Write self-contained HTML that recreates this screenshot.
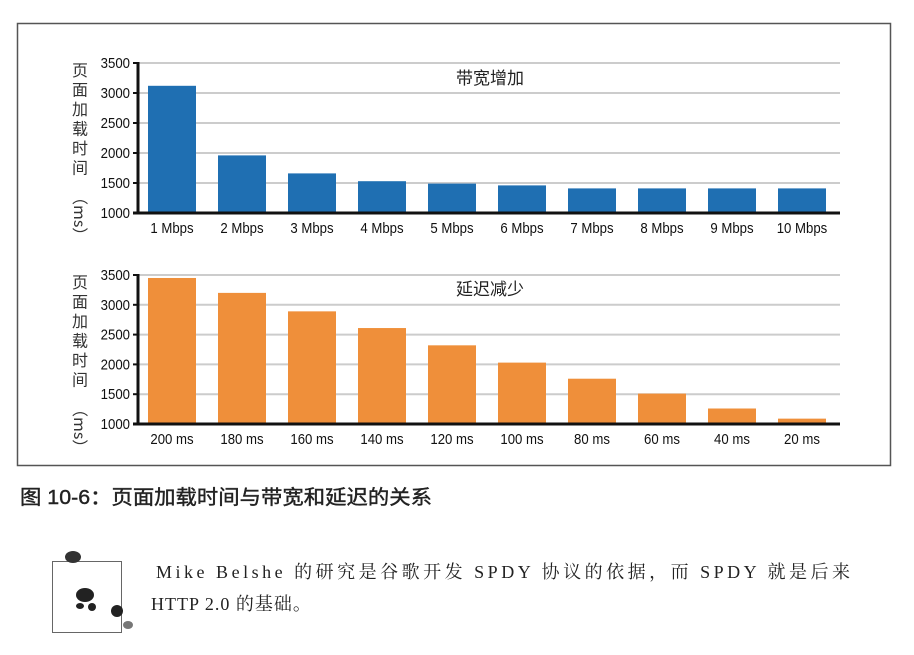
<!DOCTYPE html>
<html><head><meta charset="utf-8"><style>
body{margin:0;width:914px;height:655px;background:#fff;overflow:hidden;position:relative;font-family:"Liberation Sans","Noto Sans CJK SC",sans-serif}
svg{position:absolute;left:0;top:0}
</style></head><body>
<svg id="chart" width="914" height="655" xmlns="http://www.w3.org/2000/svg">
<rect x="17.5" y="23.5" width="873" height="442" fill="none" stroke="#555" stroke-width="1.5"/>
<text x="20" y="504" font-size="20" fill="#222" stroke="#222" stroke-width="0.4" textLength="412" lengthAdjust="spacingAndGlyphs" font-family="Liberation Sans, Noto Sans CJK SC, sans-serif">图 10-6：页面加载时间与带宽和延迟的关系</text>
<g>
<rect x="52.5" y="561.5" width="69" height="71" fill="none" stroke="#666" stroke-width="1"/>
<ellipse cx="73" cy="557" rx="8" ry="6" fill="#333"/>
<ellipse cx="85" cy="595" rx="9" ry="7" fill="#222"/>
<ellipse cx="80" cy="606" rx="4" ry="3" fill="#222"/>
<ellipse cx="92" cy="607" rx="4" ry="4" fill="#222"/>
<ellipse cx="117" cy="611" rx="6" ry="6" fill="#222"/>
<ellipse cx="128" cy="625" rx="5" ry="4" fill="#777"/>
</g>
<text x="156" y="578" font-size="18" fill="#222" textLength="694" lengthAdjust="spacing" font-family="Liberation Serif, Noto Serif CJK SC, serif">Mike Belshe 的研究是谷歌开发 SPDY 协议的依据，而 SPDY 就是后来</text>
<text x="151" y="610" font-size="18" fill="#222" font-family="Liberation Serif, Noto Serif CJK SC, serif" letter-spacing="1">HTTP 2.0 的基础。</text>
</svg>
<script>
const bwCategories=["1 Mbps","2 Mbps","3 Mbps","4 Mbps","5 Mbps","6 Mbps","7 Mbps","8 Mbps","9 Mbps","10 Mbps"];
const bwValues=[3120,1960,1660,1530,1490,1460,1410,1410,1410,1410];
const latCategories=["200 ms","180 ms","160 ms","140 ms","120 ms","100 ms","80 ms","60 ms","40 ms","20 ms"];
const latValues=[3450,3200,2890,2610,2320,2030,1760,1510,1260,1090];
const yTicks=[1000,1500,2000,2500,3000,3500];
const NS="http://www.w3.org/2000/svg";
const svg=document.getElementById('chart');
function mk(tag,attrs,parent){const e=document.createElementNS(NS,tag);for(const k in attrs)e.setAttribute(k,attrs[k]);parent.appendChild(e);return e;}
function drawChart(name,cats,vals,yTop,yBot,color,title,titleY){
  const g=mk('g',{},svg);
  
  
  const x0=138,step=70,barW=48,xEnd=840;
  const y=v=>yBot-(v-1000)/2500*(yBot-yTop);
  yTicks.forEach(t=>{
    if(t>1000){const l=mk('line',{x1:x0,x2:xEnd,y1:y(t),y2:y(t),stroke:'#ccc','stroke-width':2},g);
    
    }
    const tk=mk('line',{x1:x0-5,x2:x0,y1:y(t),y2:y(t),stroke:'#111','stroke-width':2},g);
    
    
    const tx=mk('text',{x:0,y:0,'text-anchor':'end','font-size':15,fill:'#111','font-family':'Liberation Sans, sans-serif',transform:`translate(${x0-8},${y(t)+5}) scale(0.88,1)`},g);
    tx.textContent=t;
    
    
  });
  cats.forEach((c,i)=>{
    const bx=x0+10+i*step;
    const r=mk('rect',{x:bx,y:y(vals[i]),width:barW,height:yBot-y(vals[i]),fill:color},g);
    
    
    const tx=mk('text',{x:0,y:0,'text-anchor':'middle','font-size':15,fill:'#111','font-family':'Liberation Sans, sans-serif',transform:`translate(${bx+barW/2},${yBot+20}) scale(0.88,1)`},g);
    tx.textContent=c;
    
    
  });
  const ax=mk('line',{x1:x0,x2:x0,y1:yTop-1,y2:yBot+1,stroke:'#111','stroke-width':3},g);
  
  
  const bx=mk('line',{x1:x0-5,x2:xEnd,y1:yBot,y2:yBot,stroke:'#111','stroke-width':3},g);
  
  
  const tt=mk('text',{x:490,y:titleY,'text-anchor':'middle','font-size':17,fill:'#222','font-family':'Liberation Sans, Noto Sans CJK SC, sans-serif'},g);
  tt.textContent=title;
  
  
  const chars=['页','面','加','载','时','间'];
  const yt=mk('g',{},g);
  
  
  chars.forEach((ch,i)=>{const t=mk('text',{x:80,y:yTop+13+i*19.5,'text-anchor':'middle','font-size':16,fill:'#333','font-family':'Noto Sans CJK SC, sans-serif'},yt);t.textContent=ch;});
  const ms=mk('text',{x:0,y:0,'font-size':16,fill:'#333','font-family':'Noto Sans CJK SC, sans-serif',transform:`translate(74,${yTop+126}) rotate(90)`},yt);
  ms.textContent='（ms）';
}
drawChart('bandwidth-chart',bwCategories,bwValues,63,213,'#1f6fb2','带宽增加',84);
drawChart('latency-chart',latCategories,latValues,275,424,'#ef8f3a','延迟减少',295);
</script>
</body></html>
